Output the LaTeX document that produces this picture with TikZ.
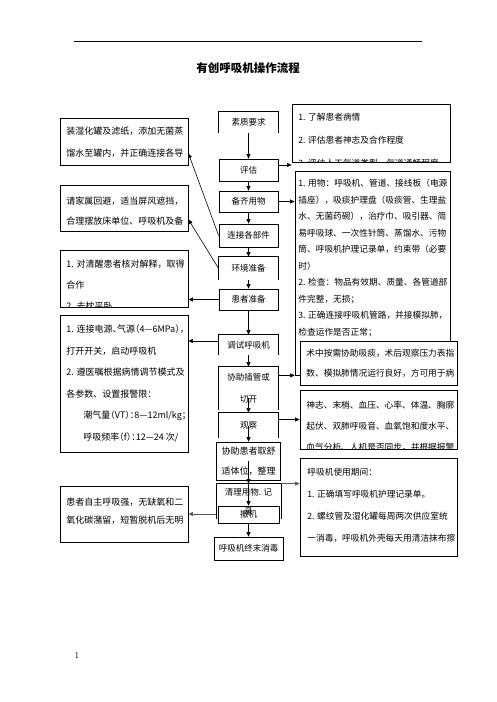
\documentclass[tikz,border=0pt]{standalone}
\usepackage{fontspec}
\newfontfamily\cjk{Noto Sans CJK SC}
\usetikzlibrary{arrows.meta}
\newcommand{\nf}[2]{\cjk\fontsize{#1}{#2}\selectfont}
\newcommand{\lead}{\rule{0pt}{8pt}}
\newcommand{\half}[1]{{\addfontfeature{RawFeature=+halt}#1}}

\begin{document}
\begin{tikzpicture}[x=1pt, y=-1pt,
    stepbox/.style={draw, line width=0.8pt, minimum width=59pt, minimum height=22pt, inner sep=0pt, align=center, font=\nf{8.5}{20}},
    note/.style={draw, line width=0.8pt, inner sep=0pt, fill=white},
    notetext/.style={anchor=north west, inner sep=0pt, minimum width=0pt, minimum height=0pt, draw=none, fill=none, align=left},
    flow/.style={line width=0.6pt, -{Triangle[length=4.5pt, width=4pt]}},
    boxline/.style={line width=0.8pt}
]
    \useasboundingbox (0,0) rectangle (496,702);

    % Header
    \draw[line width=0.8pt] (74,41) -- (422,41);
    \node[font=\nf{11.5}{14}\bfseries] (title) at (248,68) {有创呼吸机操作流程};
    \node[font=\small] (pagenum) at (77,655) {1};

    % Main steps
    \node[stepbox, draw=none, minimum height=21pt] (quality) at (248.5,122.5) {素质要求};
    \node[stepbox] (assess) at (248.5,170) {评估};
    \node[stepbox, minimum height=21pt] (supply) at (248.5,201.5) {备齐用物};
    \node[stepbox, minimum height=23pt] (connect) at (248.5,235.5) {连接各部件};
    \node[stepbox, draw=none, minimum height=23pt] (env) at (248.5,268.5) {环境准备};
    \node[stepbox, minimum height=21pt] (patient) at (248.5,299.5) {患者准备};
    \node[stepbox, draw=none, minimum height=20pt] (tune) at (248.5,345) {调试呼吸机};
    \node[stepbox, draw=none, minimum height=43pt, font=\nf{8.5}{22}] (intub) at (248.5,388.5) {协助插管或\\切开};
    \node[stepbox, draw=none, minimum height=25pt] (observe) at (248.5,425.5) {观察};
    \node[stepbox, minimum width=64pt, minimum height=38pt, font=\nf{9}{20}] (comfort) at (248.5,461) {协助患者取舒\\适体位，整理};
    \node[stepbox, draw=none, minimum width=64pt, minimum height=35pt, font=\nf{8.5}{19}] (tidy) at (248.5,501.5) {清理用物. 记\\录};
    \node[stepbox, minimum width=61pt, minimum height=17pt] (offvent) at (248.5,514.5) {撤机};
    \node[stepbox, minimum width=69pt, minimum height=23pt] (disinfect) at (248.5,548.5) {呼吸机终末消毒};

    % Open bottoms
    \foreach \n in {quality, env, tune, intub, observe, tidy}
        \draw[boxline] (\n.south west) -- (\n.north west) -- (\n.north east) -- (\n.south east);

    % Left notes
    \node[note, minimum width=128pt, minimum height=47pt, path picture={\node[notetext, font=\nf{9}{22}] at ([shift={(6pt,-8.4pt)}]path picture bounding box.north west) {\lead 装湿化罐及滤纸，添加无菌蒸\\馏水至罐内，并正确连接各导};}] (l1) at (124,141.5) {};
    \node[note, minimum width=128pt, minimum height=46pt, path picture={\node[notetext, font=\nf{9}{20}] at ([shift={(6pt,-11.4pt)}]path picture bounding box.north west) {\lead 请家属回避，适当屏风遮挡，\\合理摆放床单位、呼吸机及备};}] (l2) at (124,208) {};
    \node[note, minimum width=128pt, minimum height=57pt, path picture={\node[notetext, font=\nf{9}{21}] at ([shift={(6pt,-9.4pt)}]path picture bounding box.north west) {\lead 1. 对清醒患者核对解释，取得\\合作\\2. 去枕平卧};}] (l3) at (124,278.5) {};
    \node[note, minimum width=128pt, minimum height=137pt, path picture={\node[notetext, font=\nf{9}{21.5}] at ([shift={(6pt,-9.4pt)}]path picture bounding box.north west) {\lead \half{1. 连接电源、气源（4—6MPa），}\\打开开关，启动呼吸机\\2. 遵医嘱根据病情调节模式及\\各参数、设置报警限：\\\hspace*{17pt}\half{潮气量（VT）：8—12ml/kg；}\\\hspace*{17pt}\half{呼吸频率（f）：12—24 次/}};}] (l4) at (124,383.5) {};
    \node[note, minimum width=128pt, minimum height=56pt, path picture={\node[notetext, font=\nf{9}{18.3}] at ([shift={(6pt,-11.1pt)}]path picture bounding box.north west) {\lead 患者自主呼吸强，无缺氧和二\\氧化碳潴留，短暂脱机后无明};}] (l5) at (124,514) {};

    % Right notes
    \node[note, minimum width=158pt, minimum height=58pt, path picture={\node[notetext, font=\nf{8.7}{23}] at ([shift={(6pt,-8.4pt)}]path picture bounding box.north west) {\lead 1. 了解患者病情\\2. 评估患者神志及合作程度\\3. 评估人工气道类型、气道通畅程度};}] (r1) at (371,133) {};
    \node[note, minimum width=155pt, minimum height=204pt, path picture={\node[notetext, font=\nf{8.7}{16.5}] at ([shift={(3pt,-7.4pt)}]path picture bounding box.north west) {\lead 1. 用物：呼吸机、管道、接线板（电源\\插座），吸痰护理盘（吸痰管、生理盐\\水、无菌药碗），治疗巾、吸引器、简\\易呼吸球、一次性针筒、蒸馏水、污物\\筒、呼吸机护理记录单，约束带（必要\\时）\\2. 检查：物品有效期、质量、各管道部\\件完整，无损；\\3. 正确连接呼吸机管路，并接模拟肺，\\检查运作是否正常；};}] (r2) at (372.5,273) {};
    \node[note, minimum width=157pt, minimum height=44pt, path picture={\node[notetext, font=\nf{8.7}{20}] at ([shift={(6pt,-7.4pt)}]path picture bounding box.north west) {\lead 术中按需协助吸痰，术后观察压力表指\\数、模拟肺情况运行良好，方可用于病};}] (r3) at (378.5,363) {};
    \node[note, minimum width=157pt, minimum height=59pt, path picture={\node[notetext, font=\nf{8.7}{21}] at ([shift={(6pt,-10.4pt)}]path picture bounding box.north west) {\lead 神志、末梢、血压、心率、体温、胸廓\\起伏、双肺呼吸音、血氧饱和度水平、\\血气分析、人机是否同步，并根据报警};}] (r4) at (378.5,419.5) {};
    \node[note, minimum width=157pt, minimum height=98pt, path picture={\node[notetext, font=\nf{8.7}{22}] at ([shift={(7pt,-9.4pt)}]path picture bounding box.north west) {\lead 呼吸机使用期间：\\1. 正确填写呼吸机护理记录单。\\2. 螺纹管及湿化罐每周两次供应室统\\一消毒，呼吸机外壳每天用清洁抹布擦};}] (r5) at (378.5,507) {};

    % Flow down the middle
    \draw[flow] (quality.south) -- (assess.north);
    \draw[flow] (assess.south) -- (supply.north);
    \draw[flow] (supply.south) -- (connect.north);
    \draw[flow] (connect.south) -- (env.north);
    \draw[flow] (env.south) -- (patient.north);
    \draw[flow] (patient.south) -- (tune.north);
    \draw[flow] (tune.south) -- (intub.north);
    \draw[flow] ([yshift=12pt]intub.south) -- (observe.north);
    \draw[flow] (observe.center) -- (comfort.north);
    \draw[flow] (comfort.center) -- (tidy.north);
    \draw[flow] (tidy.north) -- (offvent.north);
    \draw[flow] (offvent.south) -- (disinfect.north);

    % To the right
    \draw[flow] ([yshift=5pt]assess.east) -- ([yshift=5pt]assess.east -| r1.west);
    \draw[flow] (supply.east) -- (supply.east -| r2.west);
    \draw[flow] (intub.east |- r2.south) -- (r2.south west);
    \draw[flow] (observe.east |- r4.west) -- (r4.west);
    \draw[flow, draw=black!65] (tidy.north east) -- (tidy.north east -| r5.west);

    % To the left
    \draw[flow] (connect.west) -- ([yshift=12pt]l1.south east);
    \draw[flow] (env.west) -- ([yshift=12pt]l2.south east);
    \draw[flow] (patient.west) -- (patient.west -| l3.east);
    \draw[flow] ([yshift=4pt]tune.west) -- ([yshift=4pt]tune.west -| l4.east);
    \draw[flow, draw=black!65] (l5.east -| tidy.west) -- (l5.east);

\end{tikzpicture}
\end{document}
